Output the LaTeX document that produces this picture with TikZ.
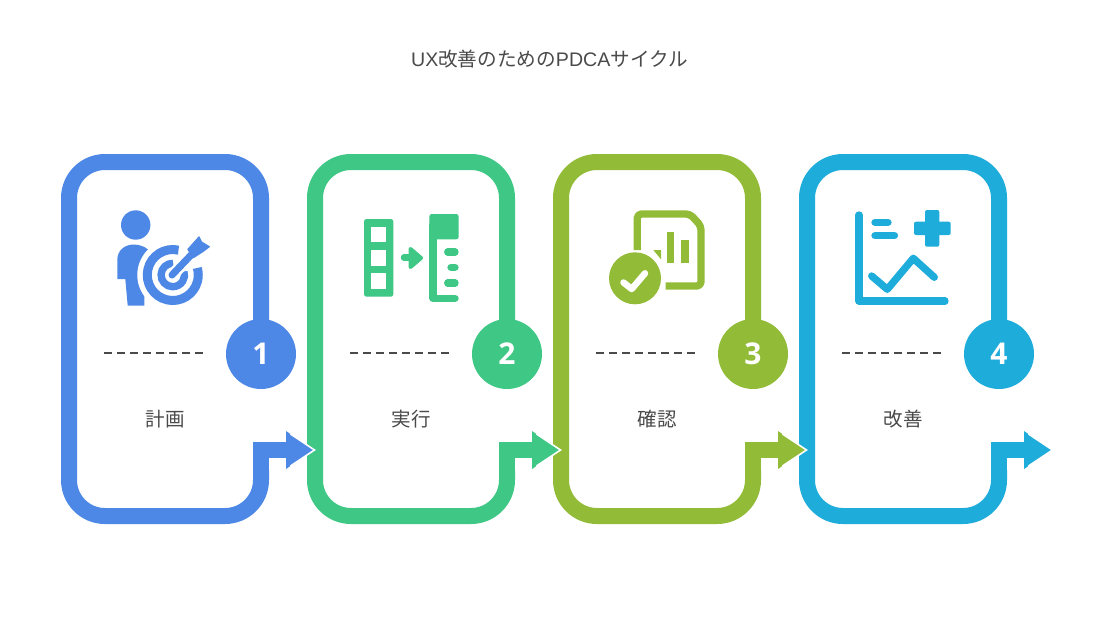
\documentclass[tikz,border=0pt]{standalone}
\usepackage{fontspec}
\setmainfont{Liberation Sans}
\newfontfamily\cjk{Noto Sans CJK JP}
\newfontfamily\numfont{Open Sans}
\definecolor{cblue}{HTML}{4E88E7}
\definecolor{cgreen}{HTML}{3EC785}
\definecolor{colive}{HTML}{92BC37}
\definecolor{ccyan}{HTML}{1EACDB}
\definecolor{ink}{HTML}{4A4A4A}
\tikzset{
  frameline/.style={line width=16pt,rounded corners=36pt},
  elbow/.style={line width=16pt,line join=miter},
  badgedisc/.style={circle,minimum size=70pt,inner sep=0pt,text=white,font=\numfont\bfseries\fontsize{30}{30}\selectfont},
  cardlabel/.style={text=ink,inner sep=0pt,font=\cjk\fontsize{19.5}{24}\selectfont},
  dashline/.style={ink,line width=2pt,dash pattern=on 8pt off 5pt},
  pill/.style={line width=7.3pt,line cap=round},
  thinicon/.style={line width=7.3pt,line join=round}
}
\newcommand{\card}[4]{%
  \begin{scope}[shift={(#1,0)}]
    \coordinate (corner#3) at (261,450);
    \coordinate (neck#3) at (288,450);
    \node[badgedisc,fill=#2] (badge#3) at (261,354) {#3};
    \draw[frameline,#2] ([yshift=-2pt]badge#3.north) -- (261,162) -- (69,162) -- (69,516) -- (261,516) -- (261,470);
    \fill[#2,draw=white,line width=1.6pt,line join=miter] (286,431) -- (314.5,450) -- (286,469) -- cycle;
    \fill[#2] (286,431) -- (290,433.7) -- (290,466.3) -- (286,469) -- cycle;
    \draw[elbow,#2] (261,470) -- (corner#3) -- (neck#3);
    \draw[dashline] (104,353) -- (203,353);
    \node[cardlabel] (label#3) at (165,419.5) {#4};
  \end{scope}}
\begin{document}
\begin{tikzpicture}[x=1pt,y=-1pt]
\useasboundingbox (0,0) rectangle (1099,624);
\fill[white] (0,0) rectangle (1099,624);
\node[text=ink,inner sep=0pt,font=\fontsize{19.6}{24}\selectfont] (title) at (549.5,59.5) {UX{\cjk 改善のための}PDCA{\cjk サイクル}};
\card{738}{ccyan}{4}{改善}
\card{492}{colive}{3}{確認}
\card{246}{cgreen}{2}{実行}
\card{0}{cblue}{1}{計画}

% icon 1: person and target
\fill[cblue] (135.7,225) circle[radius=14.7pt];
\fill[cblue] (117.3,279) -- (117.3,260) .. controls (117.3,250) and (125,244.5) .. (134,244.5) .. controls (140,244.5) and (145,247) .. (148,249.5) -- (155,275) -- (144.3,296.7) -- (144.3,305.7) -- (127.7,305.7) -- (125.3,279) -- cycle;
\fill[white] (172.8,275) circle[radius=35.5pt];
\draw[cblue,line width=9pt] (178.5,250.15) arc[start angle=77,end angle=376,radius=25.5pt];
\draw[cblue,line width=7.4pt] (173.2,263.3) arc[start angle=88,end angle=378,radius=11.7pt];
\draw[white,line width=12pt] (171,276.5) -- (190,256);
\draw[cblue,line width=7pt,line cap=round] (172,275) -- (193,253);
\fill[cblue,draw=cblue,line width=1pt,line join=round] (187.8,249.3) -- (199,236.8) -- (201.7,242) -- (209.4,246.7) -- (203.3,251.4) -- (193.3,257.8) -- cycle;

% icon 2: list transfer
\fill[cgreen,rounded corners=2.5pt] (364,219) rectangle (393.3,296.7);
\fill[white] (371.3,226.7) rectangle (385.7,242.3);
\fill[white] (371.3,250) rectangle (385.7,265.7);
\fill[white] (371.3,273.3) rectangle (385.7,289);
\draw[cgreen,line width=6.5pt,line cap=round] (404,257.5) -- (414,257.5);
\fill[cgreen,draw=cgreen,line width=4pt,line join=round] (410.5,249) -- (421,258) -- (410.5,267) -- cycle;
\fill[cgreen,rounded corners=2.5pt] (429.3,214) rectangle (458.7,239.3);
\draw[cgreen,line width=7.4pt,line cap=round,line join=round] (433,225) -- (433,298.3) -- (455,298.3);
\draw[cgreen,pill] (447.7,252) -- (455,252);
\draw[cgreen,pill] (451,267.2) -- (455,267.2);
\draw[cgreen,pill] (447.7,283) -- (455,283);

% icon 3: report with check
\draw[colive,thinicon,rounded corners=4pt] (637.3,250) -- (637.3,214) -- (690,214) -- (701,226) -- (701,286) -- (665.7,286);
\fill[colive] (667,232.3) rectangle (674.3,263.3);
\fill[colive] (681.3,240) rectangle (688.7,263.3);
\fill[colive] (653.3,250) -- (661,250) -- (661,259.3) -- cycle;
\fill[colive] (635,278.3) circle[radius=26pt];
\draw[white,line width=6.5pt,line cap=round,line join=round] (623.5,282.5) -- (631.7,289) -- (645,273.3);

% icon 4: chart with plus
\draw[ccyan,line width=7.3pt,line cap=round,line join=round] (859,215) -- (859,301) -- (945,301);
\draw[ccyan,pill] (875,222.3) -- (888,222.3);
\draw[ccyan,pill] (875,235.7) -- (894.5,235.7);
\draw[ccyan,line width=7.3pt,line cap=round,line join=round] (871.7,276) -- (887.3,289.3) -- (913.3,258.3) -- (934.3,277.3);
\fill[ccyan,rounded corners=2pt] (925,210) rectangle (939.3,246.7);
\fill[ccyan,rounded corners=2pt] (914,221.7) rectangle (950.7,235);
\end{tikzpicture}
\end{document}
